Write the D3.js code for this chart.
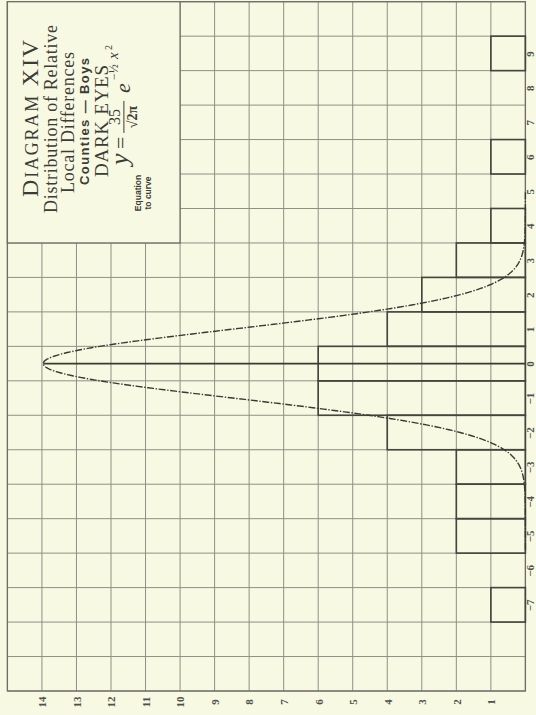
<!DOCTYPE html>
<html>
<head>
<meta charset="utf-8">
<script src="https://cdn.jsdelivr.net/npm/d3@7"></script>
<style>
  html, body { margin: 0; padding: 0; background: #f8f9e2; }
  svg { display: block; }
</style>
</head>
<body>
<svg id="chart" width="536" height="715"></svg>
<script>
// ---- data ----
const categories = [-7, -6, -5, -4, -3, -2, -1, 0, 1, 2, 3, 4, 5, 6, 7, 8, 9];
const counts     = [ 1,  0,  2,  2,  2,  4,  6, 6, 4, 3, 2, 1, 0, 1, 0, 0, 1];
const valueTicks = [1, 2, 3, 4, 5, 6, 7, 8, 9, 10, 11, 12, 13, 14];
const curveTotal = 35;           // y = 35/sqrt(2π) · e^(−x²/2)
const curveRange = [-5.4, 5.0];

const W = 536, H = 715;
const BG = "#f8f9e2", GRID = "#8f8f86", INK = "#45453f";

const svg = d3.select("#chart");
svg.append("rect").attr("width", W).attr("height", H).attr("fill", BG);

// value axis runs horizontally (right → left), category axis vertically (bottom → top)
const x = d3.scaleLinear().domain([0, 15]).range([525.4, 7.4]);
const y = d3.scaleLinear().domain([-9.5, 10.5]).range([691, 1.7]);

// ---- grid ----
const grid = svg.append("g").attr("stroke", GRID).attr("stroke-width", 1);
grid.selectAll("line.v").data(d3.range(0, 16)).join("line")
  .attr("x1", d => x(d)).attr("x2", d => x(d))
  .attr("y1", y(10.5)).attr("y2", y(-9.5));
grid.selectAll("line.h").data(d3.range(-9.5, 11, 1)).join("line")
  .attr("x1", x(15)).attr("x2", x(0))
  .attr("y1", d => y(d)).attr("y2", d => y(d));
svg.append("rect")
  .attr("x", x(15)).attr("y", y(10.5))
  .attr("width", x(0) - x(15)).attr("height", y(-9.5) - y(10.5))
  .attr("fill", "none").attr("stroke", "#6e6e66").attr("stroke-width", 1.3);

// ---- title box ----
svg.append("rect")
  .attr("x", x(15)).attr("y", y(10.5))
  .attr("width", x(10) - x(15)).attr("height", y(3.5) - y(10.5))
  .attr("fill", BG).attr("stroke", "#6e6e66").attr("stroke-width", 1.3);

// ---- bars ----
const data = categories.map((c, i) => ({ c, v: counts[i] })).filter(d => d.v > 0);
svg.append("g").selectAll("rect").data(data).join("rect")
  .attr("x", d => x(d.v)).attr("width", d => x(0) - x(d.v))
  .attr("y", d => y(d.c + 0.5)).attr("height", d => y(d.c - 0.5) - y(d.c + 0.5))
  .attr("fill", "none").attr("stroke", INK).attr("stroke-width", 1.6);

// ---- normal curve ----
const f = t => curveTotal / Math.sqrt(2 * Math.PI) * Math.exp(-t * t / 2);
svg.append("line")
  .attr("x1", x(f(0))).attr("x2", x(0)).attr("y1", y(0)).attr("y2", y(0))
  .attr("stroke", "#3a3a35").attr("stroke-width", 1.8);
const ts = d3.range(curveRange[0], curveRange[1] + 0.001, 0.02);
svg.append("path")
  .attr("d", d3.line().x(t => x(f(t))).y(t => y(t))(ts))
  .attr("fill", "none").attr("stroke", "#3a3a35").attr("stroke-width", 1.4)
  .attr("stroke-dasharray", "7,1.6,1.4,1.6");

// ---- axes ----
const fmt = d => d < 0 ? "\u2212" + (-d) : String(d);
const ax = svg.append("g").attr("transform", `translate(0,${y(-9.5)})`)
  .call(d3.axisBottom(x).tickValues(valueTicks).tickSize(0).tickFormat(fmt));
ax.select(".domain").remove();
ax.selectAll("text")
  .attr("transform", "rotate(-90)").attr("x", -11).attr("y", 0).attr("dy", "0.35em")
  .attr("text-anchor", "middle")
  .attr("font-family", "Liberation Serif, serif").attr("font-weight", "bold")
  .attr("font-size", 11).attr("fill", "#50504a");

const ay = svg.append("g").attr("transform", `translate(${x(0)},0)`)
  .call(d3.axisRight(y).tickValues(categories).tickSize(0).tickFormat(fmt));
ay.select(".domain").remove();
ay.selectAll("text")
  .attr("transform", "rotate(-90)").attr("x", 0).attr("y", 5).attr("dy", "0.35em")
  .attr("text-anchor", "middle")
  .attr("font-family", "Liberation Serif, serif").attr("font-weight", "bold")
  .attr("font-size", 11).attr("fill", "#50504a");

// ---- title block (rotated) ----
const tb = svg.append("g")
  .attr("transform", `translate(${x(15)},${y(3.5)}) rotate(-90)`)
  .attr("fill", "#3c3c36");
const serif = "Liberation Serif, Times New Roman, serif";
const sans = "Liberation Sans, Arial, sans-serif";

const t1 = tb.append("text").attr("x", 124.5).attr("y", 30.6).attr("text-anchor", "middle")
  .attr("font-family", serif).attr("textLength", 157).attr("lengthAdjust", "spacing");
t1.append("tspan").attr("font-size", 24).text("D");
t1.append("tspan").attr("font-size", 18).text("IAGRAM");
t1.append("tspan").attr("font-size", 24).text(" XIV");

tb.append("text").attr("x", 124).attr("y", 50).attr("text-anchor", "middle")
  .attr("font-family", serif).attr("font-size", 18)
  .attr("textLength", 188).attr("lengthAdjust", "spacing")
  .text("Distribution of Relative");
tb.append("text").attr("x", 120.5).attr("y", 67).attr("text-anchor", "middle")
  .attr("font-family", serif).attr("font-size", 18)
  .attr("textLength", 141).attr("lengthAdjust", "spacing")
  .text("Local Differences");
tb.append("text").attr("x", 121.5).attr("y", 82).attr("text-anchor", "middle")
  .attr("font-family", sans).attr("font-weight", "bold").attr("font-size", 13)
  .attr("textLength", 127).attr("lengthAdjust", "spacing")
  .text("Counties \u2014 Boys");
tb.append("text").attr("x", 122).attr("y", 101).attr("text-anchor", "middle")
  .attr("font-family", serif).attr("font-size", 19)
  .attr("textLength", 112).attr("lengthAdjust", "spacing")
  .text("DARK EYES");

// equation
tb.append("text").attr("x", 50).attr("y", 133.6).attr("text-anchor", "middle")
  .attr("font-family", sans).attr("font-weight", "bold").attr("font-size", 8.5)
  .text("Equation");
tb.append("text").attr("x", 50).attr("y", 143.6).attr("text-anchor", "middle")
  .attr("font-family", sans).attr("font-weight", "bold").attr("font-size", 8.5)
  .text("to curve");
tb.append("text").attr("x", 78).attr("y", 121).attr("font-family", serif)
  .attr("font-style", "italic").attr("font-size", 26).text("y");
tb.append("text").attr("x", 94).attr("y", 121).attr("font-family", serif)
  .attr("font-size", 22).text("=");
tb.append("text").attr("x", 126).attr("y", 113).attr("text-anchor", "middle")
  .attr("font-family", serif).attr("font-size", 16).text("35");
tb.append("line").attr("x1", 110).attr("x2", 142).attr("y1", 116.5).attr("y2", 116.5)
  .attr("stroke", "#3c3c36").attr("stroke-width", 1);
tb.append("text").attr("x", 126).attr("y", 130).attr("text-anchor", "middle")
  .attr("font-family", serif).attr("font-weight", "bold").attr("font-size", 14).text("\u221A2\u03C0");
tb.append("text").attr("x", 150).attr("y", 123).attr("font-family", serif)
  .attr("font-style", "italic").attr("font-size", 22).text("e");
tb.append("text").attr("x", 163).attr("y", 111).attr("font-family", serif)
  .attr("font-size", 12).text("\u2212\u00BD");
tb.append("text").attr("x", 184).attr("y", 111).attr("font-family", serif)
  .attr("font-style", "italic").attr("font-size", 15).text("x");
tb.append("text").attr("x", 193).attr("y", 105).attr("font-family", serif)
  .attr("font-size", 10).text("2");
</script>
</body>
</html>
